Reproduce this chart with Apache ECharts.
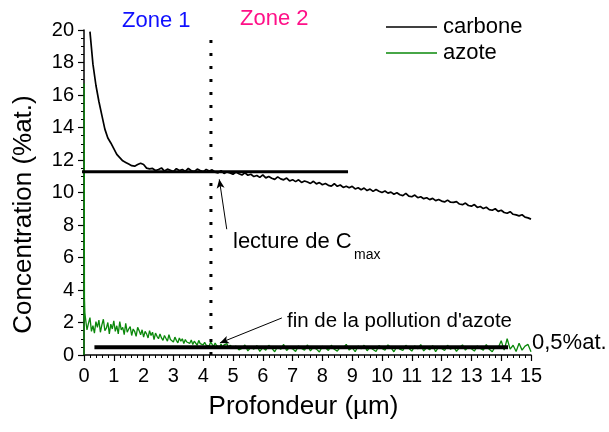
<!DOCTYPE html>
<html>
<head>
<meta charset="utf-8">
<script src="https://cdn.jsdelivr.net/npm/echarts@6/dist/echarts.min.js"></script>
<style>
  html, body { margin: 0; padding: 0; background: #fff; }
  #chart { width: 609px; height: 432px; }
</style>
</head>
<body>
<div id="chart"></div>
<script>
// Depth profile sampling (µm)
const carboneStart = 0.2;
const carboneStep = 0.1;
// Carbon concentration (%at.) every 0.1 µm from 0.2 to 15 µm
const carbone = [
  19.9, 17.9, 16.6, 15.6, 14.75, 13.9, 13.35, 13.05, 12.7, 12.35, 12.15, 11.95, 11.85, 11.75, 11.65, 11.62, 11.72, 11.8, 11.72, 11.5, 11.45,
  11.48, 11.35, 11.42, 11.51, 11.32, 11.44, 11.37, 11.28, 11.47, 11.35, 11.41, 11.3, 11.49, 11.34, 11.29, 11.44, 11.35, 11.27, 11.42, 11.32,
  11.39, 11.25, 11.21, 11.35, 11.17, 11.27, 11.2, 11.12, 11.26, 11.15, 11.08, 11.21, 11.06,
  11.12, 10.98, 11.05, 10.93, 11.08, 10.9, 10.99, 10.88, 10.81, 10.96, 10.84, 10.78,
  10.89, 10.71, 10.79, 10.67, 10.78, 10.62, 10.71, 10.65, 10.56, 10.69, 10.53,
  10.61, 10.48, 10.55, 10.44, 10.39, 10.54, 10.38, 10.46, 10.31, 10.39, 10.29,
  10.38, 10.22, 10.29, 10.17, 10.27, 10.12, 10.21, 10.07, 10.18, 10.08, 10.0,
  10.09, 9.96, 10.02, 9.89, 9.98, 9.86, 9.81, 9.95, 9.78, 9.74, 9.84, 9.68,
  9.74, 9.62, 9.68, 9.56, 9.64, 9.5, 9.57, 9.47, 9.42, 9.53, 9.4,
  9.39, 9.44, 9.29, 9.25, 9.35, 9.2, 9.16, 9.26, 9.08, 9.14, 9.01, 9.09, 8.95, 8.91, 9.0, 8.84, 8.91, 8.77, 8.72, 8.82, 8.66, 8.62, 8.56, 8.63, 8.48, 8.44, 8.36
];

// Nitrogen: surface spike, then fine sampling near the surface, coarser deeper
const azoteSurfaceDepth = [0, 0.005, 0.015, 0.03];
const azoteSurface = [0, 16.7, 3.5, 2.6];
const azoteNearStart = 0.05;
const azoteNearStep = 0.05;
const azoteNear = [
  2.25, 1.55, 1.95, 2.3, 1.45, 1.8, 1.35, 2.05, 1.7, 2.15,
  1.4, 1.85, 2.2, 1.5, 1.65, 2.0, 1.3, 1.9, 1.6, 2.1,
  1.45, 1.8, 1.3, 2.05, 1.55, 1.7, 1.25, 1.95, 1.4, 1.6,
  1.75, 1.2, 1.6, 1.45, 1.15, 1.7, 1.5, 1.25, 1.55, 1.1,
  1.45, 1.3, 1.05, 1.5, 1.2, 1.4, 0.95, 1.35, 1.15, 1.0,
  1.3, 1.05, 0.9, 1.2, 1.1, 0.85, 1.25, 0.95, 1.05, 0.8,
  1.1, 0.9, 0.75, 1.05, 0.85, 1.0, 0.7, 0.95, 0.8, 0.9,
  0.72, 0.92, 0.65, 0.85, 0.78, 0.6, 0.9, 0.7, 0.82, 0.62,
  0.78, 0.6, 0.72, 0.55, 0.8, 0.65, 0.52, 0.74, 0.58, 0.7,
  0.5, 0.68, 0.45, 0.62, 0.55, 0.7, 0.42, 0.6, 0.5, 0.44
];
const azoteDeepStart = 5.1;
const azoteDeepStep = 0.1;
const azoteDeep = [
  0.55, 0.32, 0.4, 0.62, 0.25, 0.48, 0.36, 0.58, 0.22, 0.45,
  0.3, 0.6, 0.42, 0.2, 0.52, 0.35, 0.65, 0.28, 0.47, 0.38,
  0.22, 0.56, 0.4, 0.3, 0.62, 0.25, 0.5, 0.36, 0.18, 0.54,
  0.44, 0.28, 0.6, 0.35, 0.24, 0.5, 0.42, 0.66, 0.3, 0.46,
  0.2, 0.55, 0.38, 0.6, 0.26, 0.48, 0.34, 0.22, 0.58, 0.4,
  0.3, 0.62, 0.45, 0.2, 0.52, 0.36, 0.28, 0.6, 0.42, 0.24,
  0.56, 0.38, 0.64, 0.25, 0.46, 0.32, 0.58, 0.2, 0.5, 0.4,
  0.28, 0.6, 0.35, 0.52, 0.22, 0.45, 0.62, 0.3, 0.5, 0.38,
  0.24, 0.56, 0.4, 0.3, 0.64, 0.35, 0.2, 0.52, 0.45, 0.88,
  0.3, 1.0, 0.36, 0.6, 0.22, 0.72, 0.3, 0.55, 0.65, 0.2
];

// Reading lines
const cmaxLevel = 11.28;
const cmaxSpan = [-0.4, 8.86];
const seuilLevel = 0.47;
const seuilSpan = [0.35, 14.23];
const zoneBoundary = 4.26;

// Axis ticks
const xTicks = { min: 0, max: 15, step: 1 };
const yTicks = { min: 0, max: 20, step: 2 };

const FONT = '"Liberation Sans", Arial, Helvetica, sans-serif';

function sampled(start, step, values) {
  return values.map((v, i) => [Math.round((start + i * step) * 1000) / 1000, v]);
}

const carboneData = sampled(carboneStart, carboneStep, carbone);
const azoteData = azoteSurfaceDepth.map((d, i) => [d, azoteSurface[i]])
  .concat(sampled(azoteNearStart, azoteNearStep, azoteNear))
  .concat(sampled(azoteDeepStart, azoteDeepStep, azoteDeep));

const chart = echarts.init(document.getElementById('chart'), null, { renderer: 'canvas' });

const option = {
  animation: false,
  backgroundColor: '#ffffff',
  textStyle: { fontFamily: FONT, color: '#000' },
  grid: { left: 84, right: 78, top: 30, bottom: 77, containLabel: false },
  legend: {
    data: ['carbone', 'azote'],
    orient: 'vertical',
    left: 386,
    top: 16,
    padding: 0,
    icon: 'rect',
    itemWidth: 51,
    itemHeight: 1.3,
    itemGap: 4,
    textStyle: { fontSize: 22, fontFamily: FONT, color: '#000', padding: [0, 0, 0, 1] }
  },
  xAxis: {
    type: 'value',
    min: xTicks.min,
    max: xTicks.max,
    interval: xTicks.step,
    name: 'Profondeur (µm)',
    nameLocation: 'middle',
    nameGap: 39,
    nameTextStyle: { fontSize: 26, fontFamily: FONT, color: '#000', padding: [0, 8, 0, 0] },
    axisLine: { onZero: false, lineStyle: { color: '#000', width: 1.5 } },
    axisTick: { show: true, inside: false, length: 6, lineStyle: { color: '#000', width: 1.2 } },
    minorTick: { show: true, splitNumber: 5, length: 3, lineStyle: { color: '#000', width: 1 } },
    axisLabel: { fontSize: 20, fontFamily: FONT, color: '#000', margin: 11 },
    splitLine: { show: false }
  },
  yAxis: {
    type: 'value',
    min: yTicks.min,
    max: yTicks.max,
    interval: yTicks.step,
    name: 'Concentration (%at.)',
    nameLocation: 'middle',
    nameGap: 47,
    nameTextStyle: { fontSize: 26, fontFamily: FONT, color: '#000', padding: [0, 44, 0, 0] },
    axisLine: { show: true, onZero: false, lineStyle: { color: '#000', width: 1.5 } },
    axisTick: { show: true, inside: false, length: 6, lineStyle: { color: '#000', width: 1.2 } },
    minorTick: { show: true, splitNumber: 4, length: 3, lineStyle: { color: '#000', width: 1 } },
    axisLabel: { fontSize: 20, fontFamily: FONT, color: '#000', margin: 10 },
    splitLine: { show: false }
  },
  series: [
    {
      name: 'carbone',
      type: 'line',
      data: carboneData,
      symbol: 'none',
      color: '#000',
      lineStyle: { color: '#000', width: 1.7 },
      z: 3
    },
    {
      name: 'azote',
      type: 'line',
      data: azoteData,
      symbol: 'none',
      color: '#0a880a',
      lineStyle: { color: '#0a880a', width: 1.3 },
      z: 4
    },
    {
      name: 'Cmax',
      type: 'line',
      data: [[cmaxSpan[0], cmaxLevel], [cmaxSpan[1], cmaxLevel]],
      symbol: 'none',
      clip: false,
      lineStyle: { color: '#000', width: 3 },
      z: 5
    },
    {
      name: 'seuil',
      type: 'line',
      data: [[seuilSpan[0], seuilLevel], [seuilSpan[1], seuilLevel]],
      symbol: 'none',
      lineStyle: { color: '#000', width: 4 },
      z: 5
    },
    {
      name: 'zones',
      type: 'line',
      data: [[zoneBoundary, yTicks.min], [zoneBoundary, yTicks.max]],
      symbol: 'none',
      clip: false,
      lineStyle: { color: '#000', width: 3, type: [3, 10], dashOffset: 0 },
      z: 5,
      markLine: {
        silent: true,
        symbol: ['none', 'arrow'],
        symbolSize: [6, 9],
        label: { show: false },
        lineStyle: { color: '#000', width: 1, type: 'solid' },
        data: [
          [{ coord: [4.79, 7.74] }, { coord: [4.54, 10.81] }],
          [{ coord: [6.64, 2.28] }, { coord: [4.56, 0.74] }]
        ]
      }
    }
  ],
  graphic: [
    { type: 'text', left: 122, top: 10, style: { text: 'Zone 1', fill: '#1010ff', font: '22px ' + FONT } },
    { type: 'text', left: 240, top: 8, style: { text: 'Zone 2', fill: '#ff1088', font: '22px ' + FONT } },
    { type: 'text', left: 233, top: 231, style: { text: 'lecture de C', fill: '#000', font: '22px ' + FONT } },
    { type: 'text', left: 354, top: 248, style: { text: 'max', fill: '#000', font: '14px ' + FONT } },
    { type: 'text', left: 287, top: 311, style: { text: "fin de la pollution d'azote", fill: '#000', font: '20.5px ' + FONT } },
    { type: 'text', left: 532, top: 332, style: { text: '0,5%at.', fill: '#000', font: '22px ' + FONT } }
  ]
};

chart.setOption(option);
</script>
</body>
</html>
